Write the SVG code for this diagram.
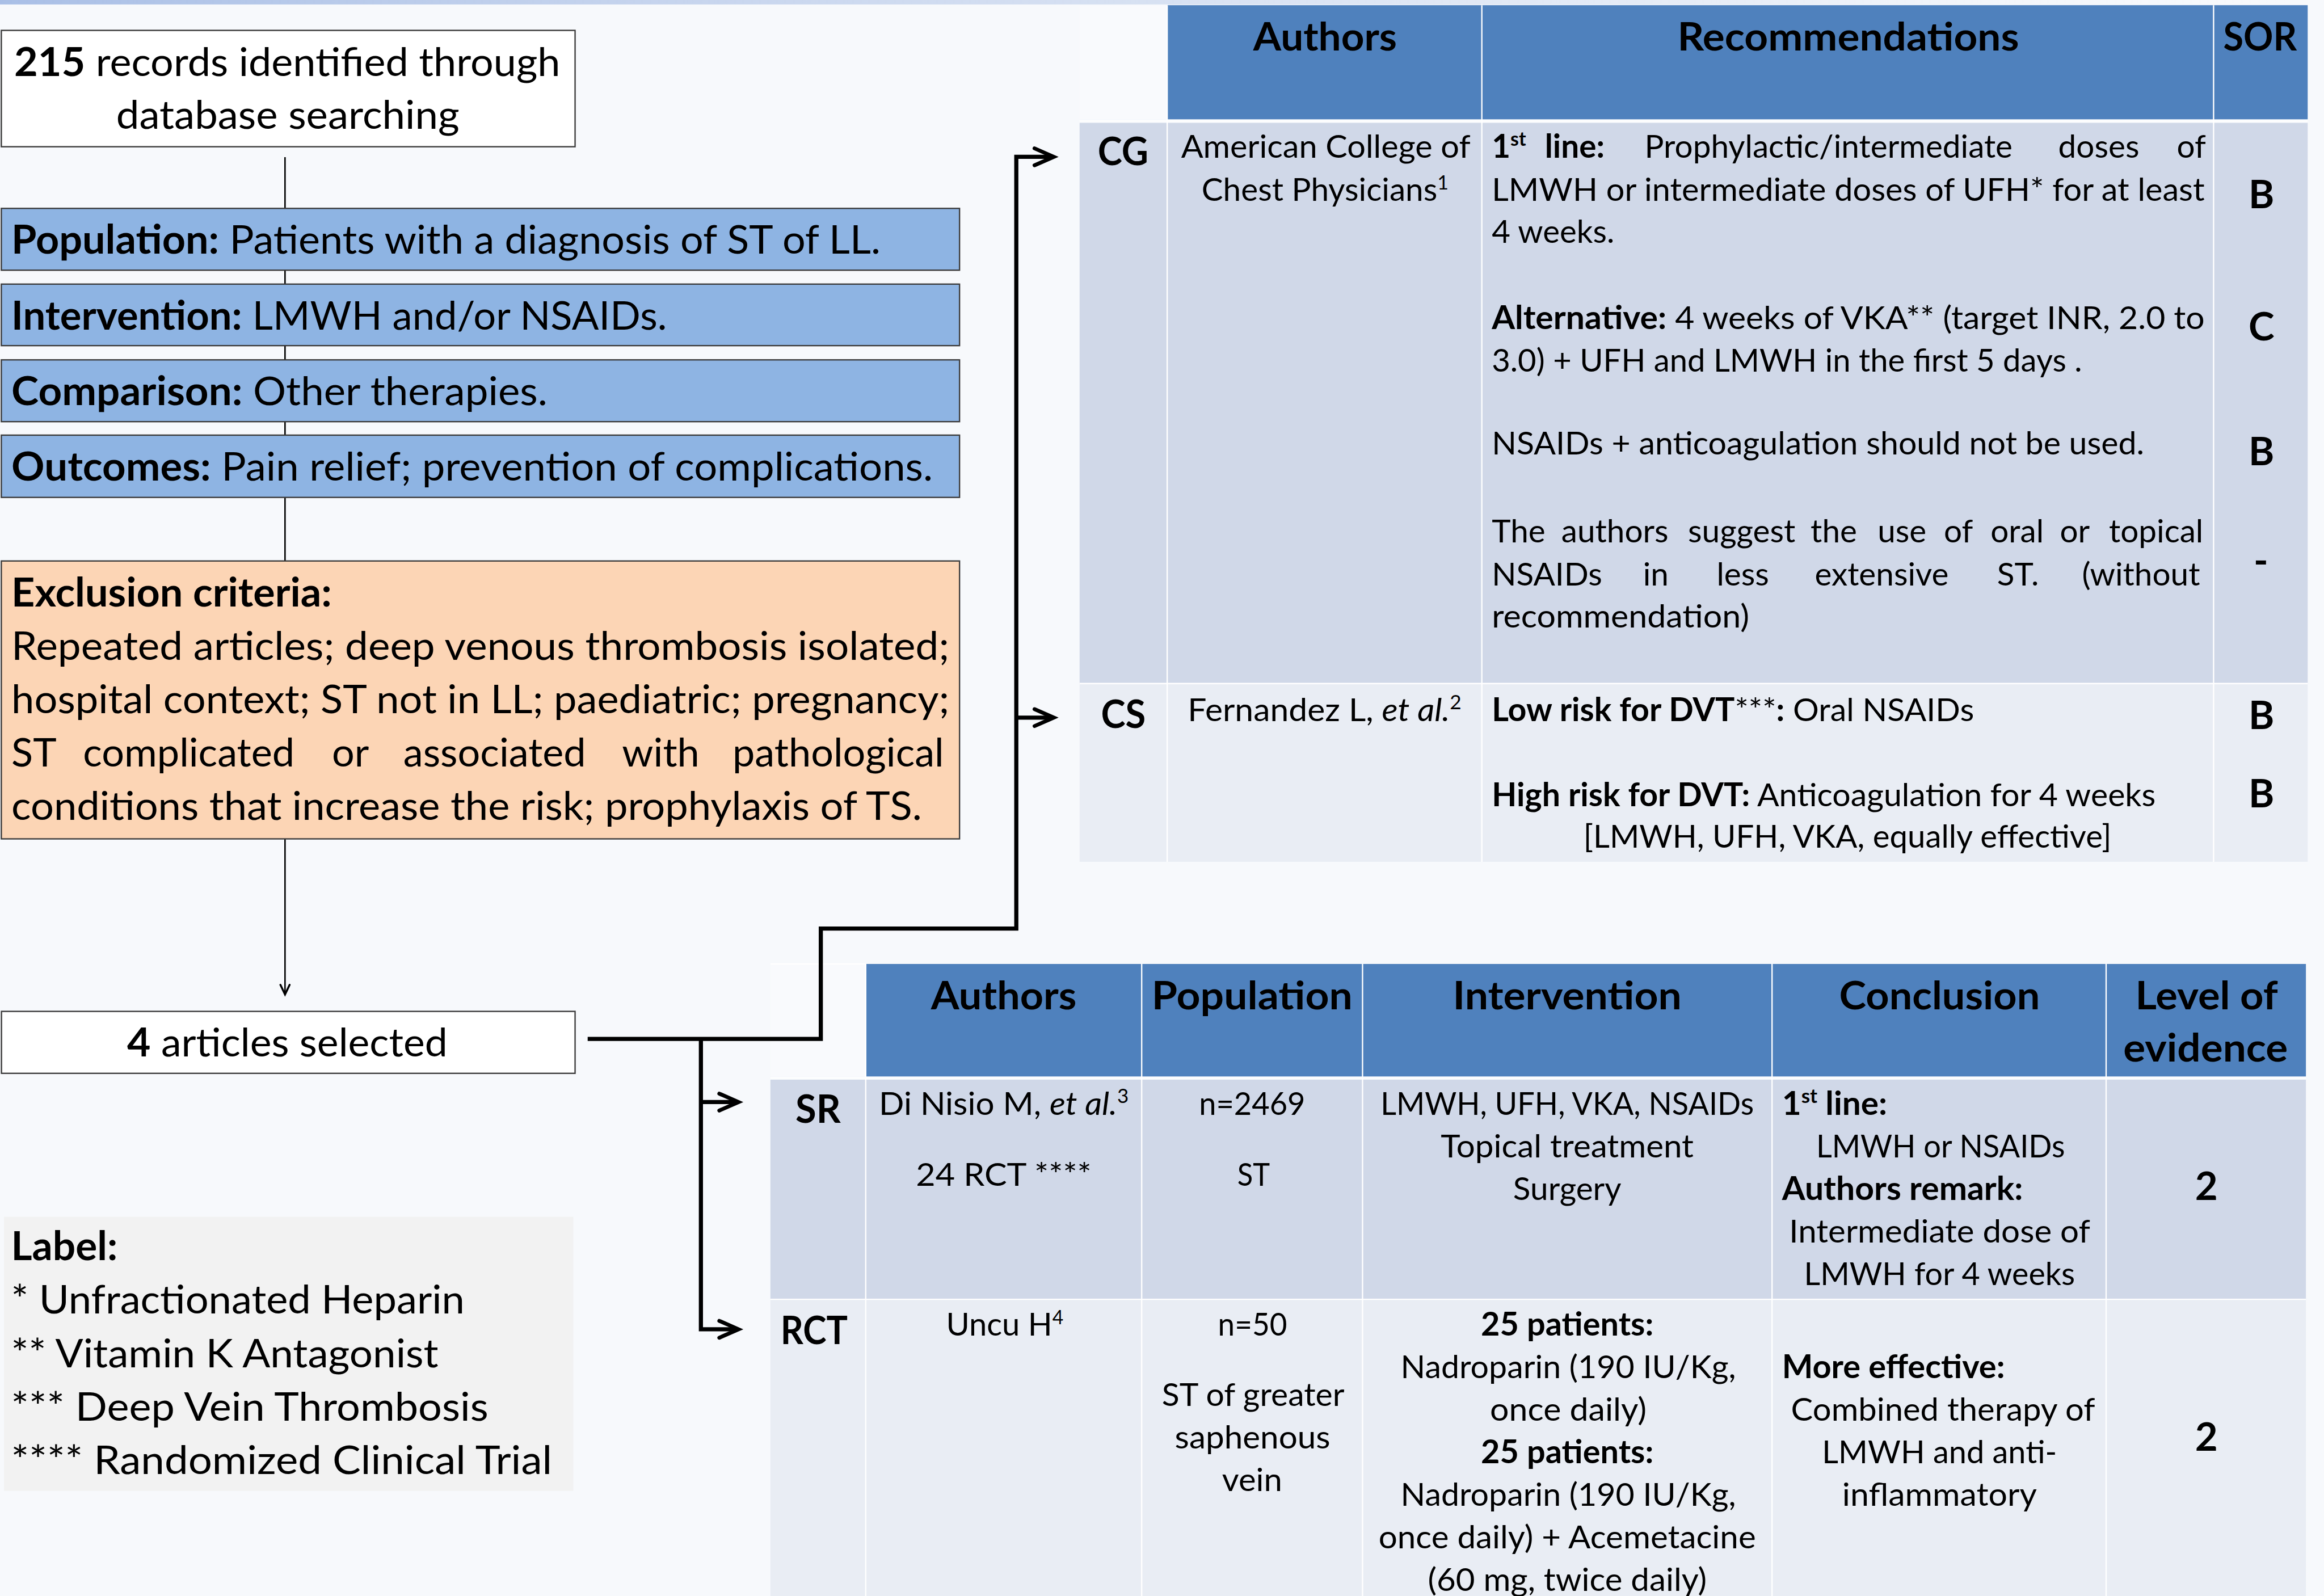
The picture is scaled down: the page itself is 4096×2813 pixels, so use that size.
<svg xmlns="http://www.w3.org/2000/svg" width="4096" height="2813" viewBox="0 0 4096 2813">
<defs>
<linearGradient id="topband" x1="0" y1="0" x2="1" y2="0">
<stop offset="0" stop-color="#A9BFE6" stop-opacity="1"/>
<stop offset="0.75" stop-color="#DDE5F3" stop-opacity="0.6"/>
<stop offset="1" stop-color="#F7F9FC" stop-opacity="0"/>
</linearGradient>
<marker id="chev" markerUnits="userSpaceOnUse" viewBox="-16 -10 20 20" markerWidth="20" markerHeight="20" refX="0" refY="0" orient="auto" overflow="visible">
<path d="M-11,-5.7 L2,0 L-11,5.7" fill="none" stroke="#000" stroke-width="2.6" stroke-linecap="round" stroke-linejoin="miter"/>
</marker>
<marker id="chevS" markerUnits="userSpaceOnUse" viewBox="-10 -6 12 12" markerWidth="12" markerHeight="12" refX="0" refY="0" orient="auto" overflow="visible">
<path d="M-5.5,-3.1 L1,0 L-5.5,3.1" fill="none" stroke="#000" stroke-width="1.3" stroke-linecap="round" stroke-linejoin="miter"/>
</marker>
</defs>
<style>
.t{font-family:Lato,'Liberation Sans',sans-serif;fill:#000}
.L{font-size:26.9px}
.T{font-size:21.7px}
.H{font-size:26px;font-weight:bold}
.R{font-size:26.4px;font-weight:bold}
.b{font-weight:bold}
.i{font-style:italic}
.m{text-anchor:middle}
.box{stroke:#3a3a3a;stroke-width:0.9}
.hdr{fill:#4F81BD}
.r1{fill:#D0D8E8}
.r2{fill:#E9EDF4}
.sep{stroke:#FFFFFF;stroke-width:0.9;fill:none}
.thin{stroke:#000;stroke-width:1;fill:none}
.thick{stroke:#000;stroke-width:2.8;fill:none;stroke-linejoin:miter}
</style>
<g transform="scale(2.612245)">
<rect x="0" y="0" width="1568" height="1077" fill="#F7F9FC"/>
<rect x="0" y="0" width="1568" height="3" fill="url(#topband)"/>

<g id="table-guidelines">
<rect x="728.4" y="3.5" width="59.1" height="77" fill="#F9FAFD"/>
<rect class="hdr" x="787.5" y="3.5" width="769.5" height="77"/>
<rect class="r1" x="728.4" y="82.9" width="828.6" height="378.3"/>
<rect class="r2" x="728.4" y="461.2" width="828.6" height="120.3"/>
<path class="sep" d="M728.4,81.7 H1557 M728.4,461.2 H1557 M787.5,3.5 V581.5 M999.8,3.5 V581.5 M1493.5,3.5 V581.5"/>
<text class="t H m" x="894" y="33.9" textLength="97" lengthAdjust="spacingAndGlyphs">Authors</text>
<text class="t H m" x="1247" y="33.9" textLength="230.5" lengthAdjust="spacingAndGlyphs">Recommendations</text>
<text class="t H m" x="1524.9" y="33.9" textLength="49.7" lengthAdjust="spacingAndGlyphs">SOR</text>
<g id="row-CG">
<text class="t R m" x="757.7" y="111.5" textLength="34.2" lengthAdjust="spacingAndGlyphs">CG</text>
<text class="t T m" x="894.5" y="106.5" textLength="195.2" lengthAdjust="spacingAndGlyphs">American College of</text>
<text class="t T m" x="894" y="135.7" textLength="166.6" lengthAdjust="spacingAndGlyphs">Chest Physicians<tspan dy="-8" font-size="13">1</tspan></text>
<text class="t T" y="106.5"><tspan class="b" x="1006.5">1</tspan><tspan class="b" dy="-8" font-size="13">st</tspan><tspan class="b" x="1042.3" dy="8">line:</tspan><tspan x="1109.6">Prophylactic/intermediate</tspan><tspan x="1388.7">doses</tspan><tspan x="1468.7">of</tspan></text>
<text class="t T" x="1006.5" y="135.7" textLength="481" lengthAdjust="spacingAndGlyphs">LMWH or intermediate doses of UFH* for at least</text>
<text class="t T" x="1006.5" y="163.8" textLength="82.7" lengthAdjust="spacingAndGlyphs">4 weeks.</text>
<text class="t T" x="1006.5" y="222" textLength="481" lengthAdjust="spacingAndGlyphs"><tspan class="b">Alternative:</tspan> 4 weeks of VKA** (target INR, 2.0  to</text>
<text class="t T" x="1006.5" y="250.6" textLength="398.2" lengthAdjust="spacingAndGlyphs">3.0) + UFH and LMWH in the first 5 days .</text>
<text class="t T" x="1006.5" y="306.8" textLength="440.2" lengthAdjust="spacingAndGlyphs">NSAIDs + anticoagulation should not be used.</text>
<text class="t T" y="365.9"><tspan x="1006.5">The</tspan><tspan x="1053.4">authors</tspan><tspan x="1138.9">suggest</tspan><tspan x="1221.6">the</tspan><tspan x="1266.8">use</tspan><tspan x="1311.5">of</tspan><tspan x="1343">oral</tspan><tspan x="1389.8">or</tspan><tspan x="1422.9">topical</tspan></text>
<text class="t T" y="395.1"><tspan x="1006.5">NSAIDs</tspan><tspan x="1108.5">in</tspan><tspan x="1158.2">less</tspan><tspan x="1224.4">extensive</tspan><tspan x="1347.4">ST.</tspan><tspan x="1404.7">(without</tspan></text>
<text class="t T" x="1006.5" y="423.3" textLength="173.7" lengthAdjust="spacingAndGlyphs">recommendation)</text>
<text class="t R m" x="1525.8" y="140.5">B</text>
<text class="t R m" x="1525.8" y="229.5">C</text>
<text class="t R m" x="1525.8" y="314">B</text>
<text class="t R m" x="1525.5" y="387.5">-</text>
</g>
<g id="row-CS">
<text class="t R m" x="757.9" y="491.1" textLength="30.2" lengthAdjust="spacingAndGlyphs">CS</text>
<text class="t T" x="801.3" y="486.4" textLength="184.7" lengthAdjust="spacingAndGlyphs">Fernandez L, <tspan class="i">et al.</tspan><tspan dy="-8" font-size="13">2</tspan></text>
<text class="t T" x="1006.5" y="486.4" textLength="325.4" lengthAdjust="spacingAndGlyphs"><tspan class="b">Low risk for DVT</tspan>***<tspan class="b">:</tspan> Oral NSAIDs</text>
<text class="t T" x="1006.5" y="543.9" textLength="447.9" lengthAdjust="spacingAndGlyphs"><tspan class="b">High risk for DVT:</tspan> Anticoagulation for 4 weeks</text>
<text class="t T" x="1068.3" y="572.1" textLength="356.3" lengthAdjust="spacingAndGlyphs">[LMWH, UFH, VKA, equally effective]</text>
<text class="t R m" x="1525.8" y="492">B</text>
<text class="t R m" x="1525.8" y="544.8">B</text>
</g>
</g>

<g id="table-studies">
<rect x="519.8" y="650.4" width="64.3" height="75.9" fill="#F9FAFD"/>
<rect class="hdr" x="584.1" y="650.4" width="971.7" height="75.9"/>
<rect class="r1" x="519.8" y="728.5" width="1036" height="148.2"/>
<rect class="r2" x="519.8" y="876.7" width="1036" height="200.3"/>
<path class="sep" d="M519.8,650.4 H584.1 M519.8,727.4 H1555.8 M519.8,876.7 H1555.8 M584.1,650.4 V1077 M770.3,650.4 V1077 M919.3,650.4 V1077 M1195.6,650.4 V1077 M1421,650.4 V1077"/>
<text class="t H m" x="677.2" y="681" textLength="98.2" lengthAdjust="spacingAndGlyphs">Authors</text>
<text class="t H m" x="844.8" y="681" textLength="135.5" lengthAdjust="spacingAndGlyphs">Population</text>
<text class="t H m" x="1057.4" y="681" textLength="154.4" lengthAdjust="spacingAndGlyphs">Intervention</text>
<text class="t H m" x="1308.6" y="681" textLength="135.4" lengthAdjust="spacingAndGlyphs">Conclusion</text>
<text class="t H m" x="1488.8" y="681" textLength="96.1" lengthAdjust="spacingAndGlyphs">Level of</text>
<text class="t H m" x="1488.1" y="716.3" textLength="111" lengthAdjust="spacingAndGlyphs">evidence</text>
<g id="row-SR">
<text class="t R m" x="552" y="757.4" textLength="30.5" lengthAdjust="spacingAndGlyphs">SR</text>
<text class="t T" x="593" y="752.3" textLength="168.5" lengthAdjust="spacingAndGlyphs">Di Nisio M, <tspan class="i">et al.</tspan><tspan dy="-8" font-size="13">3</tspan></text>
<text class="t T m" x="677.2" y="800" textLength="118.5" lengthAdjust="spacingAndGlyphs">24 RCT ****</text>
<text class="t T m" x="844.8" y="752.3" textLength="71.7" lengthAdjust="spacingAndGlyphs">n=2469</text>
<text class="t T m" x="845.8" y="800" textLength="22" lengthAdjust="spacingAndGlyphs">ST</text>
<text class="t T m" x="1057.4" y="752.3" textLength="251.9" lengthAdjust="spacingAndGlyphs">LMWH, UFH, VKA, NSAIDs</text>
<text class="t T m" x="1057.4" y="781" textLength="170.6" lengthAdjust="spacingAndGlyphs">Topical treatment</text>
<text class="t T m" x="1057.4" y="809.7" textLength="73" lengthAdjust="spacingAndGlyphs">Surgery</text>
<text class="t T b" x="1202.3" y="752.3" textLength="71" lengthAdjust="spacingAndGlyphs">1<tspan dy="-8" font-size="13">st</tspan><tspan dy="8"> line:</tspan></text>
<text class="t T m" x="1309.3" y="781" textLength="167.9" lengthAdjust="spacingAndGlyphs">LMWH or NSAIDs</text>
<text class="t T b" x="1202.3" y="809.7" textLength="162.6" lengthAdjust="spacingAndGlyphs">Authors remark:</text>
<text class="t T m" x="1308.7" y="838.4" textLength="203.1" lengthAdjust="spacingAndGlyphs">Intermediate dose of</text>
<text class="t T m" x="1308.6" y="867.1" textLength="182.8" lengthAdjust="spacingAndGlyphs">LMWH for 4 weeks</text>
<text class="t R m" x="1488.7" y="809.7">2</text>
</g>
<g id="row-RCT">
<text class="t R m" x="549.3" y="907" textLength="45.3" lengthAdjust="spacingAndGlyphs">RCT</text>
<text class="t T m" x="677.9" y="901.3" textLength="79.2" lengthAdjust="spacingAndGlyphs">Uncu H<tspan dy="-8" font-size="13">4</tspan></text>
<text class="t T m" x="845.1" y="901.3" textLength="46.7" lengthAdjust="spacingAndGlyphs">n=50</text>
<text class="t T m" x="845.5" y="948.6" textLength="123.2" lengthAdjust="spacingAndGlyphs">ST of greater</text>
<text class="t T m" x="845.1" y="977.3" textLength="104.9" lengthAdjust="spacingAndGlyphs">saphenous</text>
<text class="t T m" x="844.8" y="1006" textLength="40.6" lengthAdjust="spacingAndGlyphs">vein</text>
<text class="t T m b" x="1057.4" y="901.3" textLength="116.5" lengthAdjust="spacingAndGlyphs">25 patients:</text>
<text class="t T m" x="1058.1" y="930" textLength="226.2" lengthAdjust="spacingAndGlyphs">Nadroparin (190 IU/Kg,</text>
<text class="t T m" x="1058.1" y="958.7" textLength="105.6" lengthAdjust="spacingAndGlyphs">once daily)</text>
<text class="t T m b" x="1057.4" y="987.4" textLength="116.5" lengthAdjust="spacingAndGlyphs">25 patients:</text>
<text class="t T m" x="1058.1" y="1016.1" textLength="226.2" lengthAdjust="spacingAndGlyphs">Nadroparin (190 IU/Kg,</text>
<text class="t T m" x="1057.4" y="1044.8" textLength="254.6" lengthAdjust="spacingAndGlyphs">once daily) + Acemetacine</text>
<text class="t T m" x="1057.4" y="1073.5" textLength="188.2" lengthAdjust="spacingAndGlyphs">(60 mg, twice daily)</text>
<text class="t T b" x="1202.3" y="930" textLength="150.4" lengthAdjust="spacingAndGlyphs">More effective:</text>
<text class="t T m" x="1311" y="958.7" textLength="205.2" lengthAdjust="spacingAndGlyphs">Combined therapy of</text>
<text class="t T m" x="1308.6" y="987.4" textLength="158.5" lengthAdjust="spacingAndGlyphs">LMWH and anti-</text>
<text class="t T m" x="1308.6" y="1016.1" textLength="131.3" lengthAdjust="spacingAndGlyphs">inflammatory</text>
<text class="t R m" x="1488.7" y="978.9">2</text>
</g>
</g>

<g id="connectors">
<path class="thin" d="M192.3,106 V378.5"/>
<path class="thin" d="M192.3,566 V670" marker-end="url(#chevS)"/>
<path class="thick" d="M396.5,701 H553.8 V626.5 H685.7 V105.8 H709" marker-end="url(#chev)"/>
<path class="thick" d="M685.7,484.2 H709" marker-end="url(#chev)"/>
<path class="thick" d="M472.9,701 V896.9 H496.3" marker-end="url(#chev)"/>
<path class="thick" d="M472.9,743.6 H496.3" marker-end="url(#chev)"/>
</g>

<g id="node-records">
<rect class="box" x="0.9" y="20.5" width="387.1" height="78.5" fill="#FFFFFF"/>
<text class="t L m" x="193.8" y="51.3" textLength="368.5" lengthAdjust="spacingAndGlyphs"><tspan class="b">215</tspan> records identified through</text>
<text class="t L m" x="194.2" y="87" textLength="231.6" lengthAdjust="spacingAndGlyphs">database searching</text>
</g>

<g id="node-population">
<rect class="box" x="0.9" y="140.6" width="646.5" height="41.7" fill="#8EB4E3"/>
<text class="t L" x="7.7" y="171.3" textLength="586.4" lengthAdjust="spacingAndGlyphs"><tspan class="b">Population:</tspan> Patients with a diagnosis of ST of LL.</text>
</g>
<g id="node-intervention">
<rect class="box" x="0.9" y="191.7" width="646.5" height="41.5" fill="#8EB4E3"/>
<text class="t L" x="7.7" y="222.3" textLength="442.3" lengthAdjust="spacingAndGlyphs"><tspan class="b">Intervention:</tspan> LMWH and/or NSAIDs.</text>
</g>
<g id="node-comparison">
<rect class="box" x="0.9" y="242.8" width="646.5" height="41.7" fill="#8EB4E3"/>
<text class="t L" x="7.7" y="273.4" textLength="361.7" lengthAdjust="spacingAndGlyphs"><tspan class="b">Comparison:</tspan> Other therapies.</text>
</g>
<g id="node-outcomes">
<rect class="box" x="0.9" y="293.6" width="646.5" height="42" fill="#8EB4E3"/>
<text class="t L" x="7.7" y="324.3" textLength="621.7" lengthAdjust="spacingAndGlyphs"><tspan class="b">Outcomes:</tspan> Pain relief; prevention of complications.</text>
</g>

<g id="node-exclusion">
<rect class="box" x="0.9" y="378.5" width="646.5" height="187.5" fill="#FCD5B5"/>
<text class="t L b" x="7.7" y="409.2" textLength="216.2" lengthAdjust="spacingAndGlyphs">Exclusion criteria:</text>
<text class="t L" x="7.7" y="445.2" textLength="632.9" lengthAdjust="spacingAndGlyphs">Repeated articles; deep venous thrombosis isolated;</text>
<text class="t L" x="7.7" y="481.2" textLength="632.9" lengthAdjust="spacingAndGlyphs">hospital context; ST not in LL; paediatric; pregnancy;</text>
<text class="t L" y="517.2"><tspan x="7.7">ST</tspan><tspan x="56">complicated</tspan><tspan x="223.9">or</tspan><tspan x="272.1">associated</tspan><tspan x="419.7">with</tspan><tspan x="494.2">pathological</tspan></text>
<text class="t L" x="7.7" y="553.2" textLength="614.3" lengthAdjust="spacingAndGlyphs">conditions that increase the risk; prophylaxis of TS.</text>
</g>

<g id="node-selected">
<rect class="box" x="1" y="682.4" width="387" height="41.8" fill="#FFFFFF"/>
<text class="t L m" x="193.9" y="712.8" textLength="216.2" lengthAdjust="spacingAndGlyphs"><tspan class="b">4</tspan> articles selected</text>
</g>

<g id="node-label">
<rect x="2.7" y="821" width="384.1" height="184.9" fill="#F2F2F2"/>
<text class="t L b" x="7.5" y="850.4" textLength="71.9" lengthAdjust="spacingAndGlyphs">Label:</text>
<text class="t L" x="7.5" y="886.4" textLength="306" lengthAdjust="spacingAndGlyphs">* Unfractionated Heparin</text>
<text class="t L" x="7.5" y="922.4" textLength="288.3" lengthAdjust="spacingAndGlyphs">** Vitamin K Antagonist</text>
<text class="t L" x="7.5" y="958.4" textLength="322" lengthAdjust="spacingAndGlyphs">*** Deep Vein Thrombosis</text>
<text class="t L" x="7.5" y="994.4" textLength="365" lengthAdjust="spacingAndGlyphs">**** Randomized Clinical Trial</text>
</g>
</g>
</svg>
